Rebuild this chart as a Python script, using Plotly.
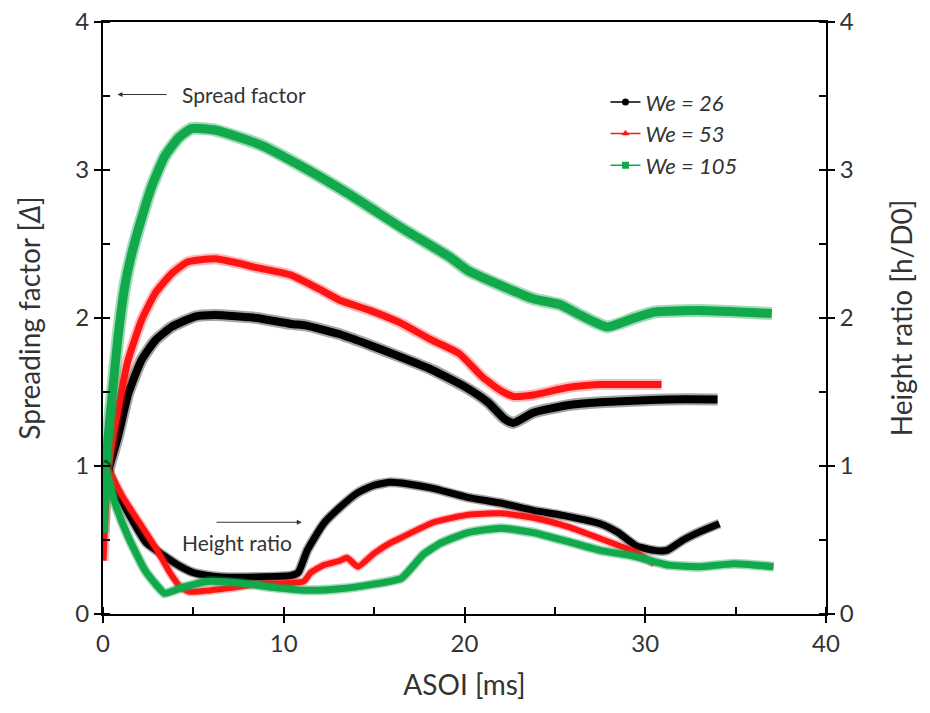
import plotly.graph_objects as go

# ---------------- data ----------------
# Spreading factor (left axis)
t_sf_26 = [0, 0.3, 0.83, 1.4, 2.15, 2.9, 3.8, 5.1, 6.2, 7.5, 8.5, 10.4, 11.2, 12.2, 13.1, 14.7,
           16.4, 18.2, 20.1, 21.3, 22.2, 22.7, 23.8, 25.7, 27.5, 31.3, 34.0]
sf_26 = [0.8, 0.97, 1.2, 1.49, 1.72, 1.85, 1.94, 2.01, 2.02, 2.01, 2.0, 1.96, 1.95, 1.92, 1.89, 1.82,
         1.74, 1.65, 1.53, 1.43, 1.32, 1.29, 1.36, 1.41, 1.43, 1.45, 1.45]

t_sf_53 = [0, 0.27, 0.83, 1.4, 2.15, 2.9, 3.8, 4.7, 6.2, 7.5, 8.5, 10.4, 12.2, 13.1, 14.8, 16.4,
           18.2, 19.7, 21.0, 22.0, 22.7, 23.8, 25.7, 27.5, 30.9]
sf_53 = [0.36, 0.97, 1.38, 1.72, 1.99, 2.17, 2.30, 2.38, 2.40, 2.37, 2.34, 2.29, 2.18, 2.12, 2.05, 1.97,
         1.85, 1.76, 1.60, 1.51, 1.47, 1.48, 1.53, 1.55, 1.55]

t_sf_105 = [0, 0.1, 0.27, 0.55, 0.83, 1.2, 1.6, 2.15, 2.7, 3.4, 4.2, 4.9, 6.2, 8.7, 10.9, 13.7,
            16.5, 19.2, 20.2, 22.0, 23.8, 25.3, 26.4, 27.9, 29.4, 30.5, 33.0, 37.0]
sf_105 = [0.55, 0.86, 1.18, 1.53, 1.87, 2.21, 2.44, 2.68, 2.89, 3.09, 3.22, 3.28, 3.27, 3.17, 3.03, 2.83,
          2.61, 2.41, 2.32, 2.22, 2.13, 2.09, 2.02, 1.94, 2.0, 2.04, 2.05, 2.03]

# Height ratio (right axis)
t_hr_26 = [0, 0.2, 0.66, 1.5, 2.4, 3.3, 4.3, 5.0, 5.8, 6.6, 8.5, 10.4, 10.8, 11.3, 12.2, 13.1, 14.1,
           15.0, 15.9, 16.8, 18.2, 20.1, 22.0, 23.8, 25.7, 27.5, 28.5, 29.5, 30.5, 31.2, 32.1, 33.1, 34.1]
hr_26 = [1.02, 1.0, 0.86, 0.66, 0.48, 0.40, 0.32, 0.28, 0.26, 0.25, 0.25, 0.26, 0.28, 0.43, 0.61, 0.72, 0.82,
         0.87, 0.89, 0.88, 0.85, 0.79, 0.75, 0.70, 0.66, 0.61, 0.55, 0.46, 0.43, 0.43, 0.50, 0.56, 0.61]

t_hr_53 = [0, 0.2, 1.1, 2.05, 3.0, 3.7, 4.3, 4.8, 6.65, 8.5, 10.4, 11.1, 11.5, 12.2, 13.1, 13.5, 14.1,
           15.0, 15.9, 16.4, 18.3, 20.2, 22.0, 23.8, 25.7, 27.5, 29.4, 30.5]
hr_53 = [1.0, 0.99, 0.79, 0.61, 0.43, 0.28, 0.18, 0.15, 0.17, 0.20, 0.21, 0.22, 0.28, 0.33, 0.36, 0.38, 0.32,
         0.41, 0.48, 0.51, 0.62, 0.67, 0.68, 0.65, 0.59, 0.51, 0.42, 0.34]

t_hr_105 = [0, 0.1, 0.66, 1.4, 2.3, 3.0, 3.4, 4.4, 5.8, 7.6, 9.4, 11.3, 13.1, 14.9, 16.5, 17.2, 17.7,
            18.7, 20.2, 22.0, 23.8, 25.7, 27.5, 29.4, 31.3, 33.1, 34.9, 37.1]
hr_105 = [0.95, 1.0, 0.75, 0.52, 0.30, 0.19, 0.14, 0.18, 0.22, 0.21, 0.18, 0.16, 0.17, 0.20, 0.24, 0.33, 0.40,
          0.48, 0.55, 0.58, 0.55, 0.49, 0.43, 0.39, 0.33, 0.32, 0.34, 0.32]

series_names = ["<i>We = 26</i>", "<i>We = 53</i>", "<i>We = 105</i>"]
colors = ["#000000", "#ff1414", "#12a84c"]
halo = ["rgba(0,0,0,0.35)", "rgba(255,20,20,0.30)", "rgba(18,168,76,0.40)"]
symbols = ["circle", "triangle-up", "square"]

x_ticks = [0, 10, 20, 30, 40]
y_ticks = [0, 1, 2, 3, 4]

FONT = "Lato"
TXT = "#333333"

fig = go.Figure()

sf_t = [t_sf_26, t_sf_53, t_sf_105]
sf_v = [sf_26, sf_53, sf_105]
hr_t = [t_hr_26, t_hr_53, t_hr_105]
hr_v = [hr_26, hr_53, hr_105]
sf_w = [8, 7, 9]
hr_w = [7, 6, 7]

for i in range(3):
    fig.add_trace(go.Scatter(x=sf_t[i], y=sf_v[i], mode="lines",
                             line=dict(color=halo[i], width=sf_w[i] + 4, shape="spline", smoothing=0.5),
                             showlegend=False, hoverinfo="skip"))
    fig.add_trace(go.Scatter(x=sf_t[i], y=sf_v[i], mode="lines",
                             line=dict(color=colors[i], width=sf_w[i], shape="spline", smoothing=0.5),
                             showlegend=False))
for i in range(3):
    fig.add_trace(go.Scatter(x=hr_t[i], y=hr_v[i], mode="lines", yaxis="y2",
                             line=dict(color=halo[i], width=hr_w[i] + 3, shape="spline", smoothing=0.5),
                             showlegend=False, hoverinfo="skip"))
    fig.add_trace(go.Scatter(x=hr_t[i], y=hr_v[i], mode="lines", yaxis="y2",
                             line=dict(color=colors[i], width=hr_w[i], shape="spline", smoothing=0.5),
                             showlegend=False))

# legend entries
for i in range(3):
    fig.add_trace(go.Scatter(x=[None], y=[None], mode="lines+markers", name=series_names[i],
                             line=dict(color=colors[i], width=1.5),
                             marker=dict(color=colors[i], size=7, symbol=symbols[i])))

# helper traces for overlay tick axes
fig.add_trace(go.Scatter(x=[None], y=[None], xaxis="x2", yaxis="y3", showlegend=False, hoverinfo="skip"))
fig.add_trace(go.Scatter(x=[None], y=[None], xaxis="x", yaxis="y4", showlegend=False, hoverinfo="skip"))

axis_common = dict(showgrid=False, zeroline=False, linecolor="black", linewidth=2,
                   tickcolor="black", tickwidth=1.5, ticklen=7, automargin=False,
                   tickfont=dict(family=FONT, size=24, color=TXT))
inner_common = dict(ticks="inside", ticklen=7, tickcolor="black", tickwidth=1.5, automargin=False,
                    showticklabels=False, showline=False, showgrid=False, zeroline=False)

fig.update_layout(
    width=930, height=713,
    margin=dict(l=103, r=104, t=22, b=99),
    paper_bgcolor="white", plot_bgcolor="white",
    font=dict(family=FONT, color=TXT),
    xaxis=dict(range=[0, 40], tickvals=x_ticks, ticks="outside", mirror=True,
               minor=dict(dtick=5, ticks="inside", ticklen=7, tickcolor="black", tickwidth=1.5),
               title=dict(text="ASOI [ms]", font=dict(family=FONT, size=28, color=TXT), standoff=20),
               **axis_common),
    xaxis2=dict(range=[0, 40], overlaying="x", side="bottom", anchor="y", tickvals=x_ticks, **inner_common),
    yaxis=dict(range=[0, 4], tickvals=y_ticks, ticks="outside",
               minor=dict(dtick=0.5, ticks="inside", ticklen=7, tickcolor="black", tickwidth=1.5),
               title=dict(text="Spreading factor [<i>Δ</i>]", font=dict(family=FONT, size=28, color=TXT), standoff=26),
               **axis_common),
    yaxis2=dict(range=[0, 4], tickvals=y_ticks, ticks="outside", overlaying="y", side="right",
                minor=dict(dtick=0.5, ticks="inside", ticklen=7, tickcolor="black", tickwidth=1.5),
                title=dict(text="Height ratio [h/D0]", font=dict(family=FONT, size=28, color=TXT), standoff=40),
                **axis_common),
    yaxis3=dict(range=[0, 4], overlaying="y", side="left", anchor="x2", tickvals=y_ticks, **inner_common),
    yaxis4=dict(range=[0, 4], overlaying="y", side="right", anchor="x", tickvals=y_ticks, **inner_common),
    legend=dict(x=0.695, y=0.90, xanchor="left", yanchor="top", bgcolor="rgba(0,0,0,0)",
                font=dict(family=FONT, size=22, color=TXT), itemwidth=30, tracegroupgap=0),
    showlegend=True,
)

# annotations
fig.add_annotation(x=0.8, y=3.51, ax=3.6, ay=3.51, xref="x", yref="y", axref="x", ayref="y",
                   text="", showarrow=True, arrowhead=2, arrowsize=1, arrowwidth=1, arrowcolor=TXT)
fig.add_annotation(x=7.8, y=3.51, xref="x", yref="y", text="Spread factor", showarrow=False,
                   font=dict(family=FONT, size=21, color=TXT))
fig.add_annotation(x=11.0, y=0.62, ax=6.2, ay=0.62, xref="x", yref="y", axref="x", ayref="y",
                   text="", showarrow=True, arrowhead=2, arrowsize=1, arrowwidth=1, arrowcolor=TXT)
fig.add_annotation(x=7.4, y=0.48, xref="x", yref="y", text="Height ratio", showarrow=False,
                   font=dict(family=FONT, size=21, color=TXT))

fig.write_html("out.html")
